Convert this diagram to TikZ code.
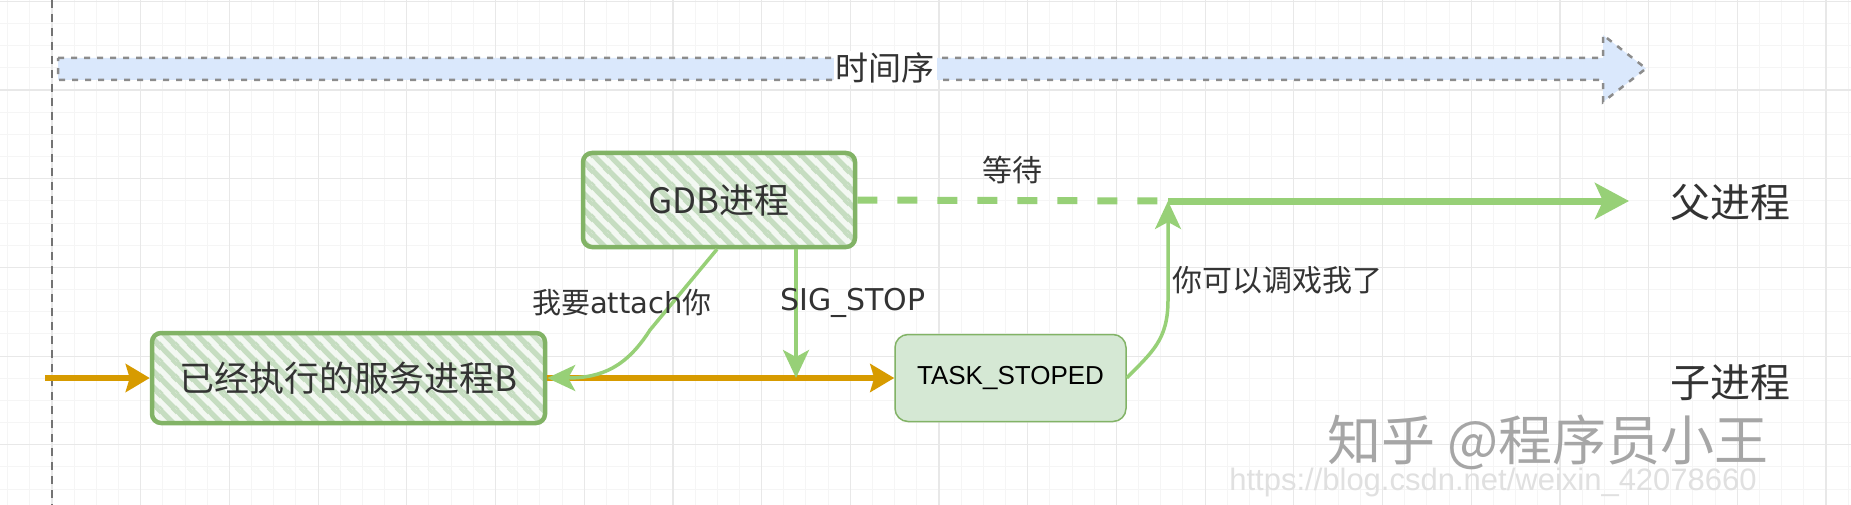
\documentclass[tikz,border=0pt]{standalone}
\usepackage{fontspec}
\setmainfont{Noto Sans CJK SC}
\newfontfamily\latinfont{Liberation Sans}
\newfontfamily\comicfont{DejaVu Sans}
\usetikzlibrary{arrows.meta, patterns.meta}
\definecolor{sketchgreen}{HTML}{82B366}
\definecolor{linegreen}{HTML}{97D077}
\definecolor{hatchline}{HTML}{C6DDC1}
\definecolor{hatchbg}{HTML}{F3F8F2}
\definecolor{stategreen}{HTML}{D5E8D4}
\definecolor{floworange}{HTML}{D79B00}
\definecolor{timeblue}{HTML}{DAE8FC}
\definecolor{labelgray}{HTML}{333333}

\tikzdeclarepattern{
  name=sketchhatch,
  type=uncolored,
  bounding box={(0pt,0pt) and (16pt,16pt)},
  tile size={(16pt,16pt)},
  code={
    \pgfsetlinewidth{5.5pt}
    \pgfpathmoveto{\pgfpoint{-8pt}{8pt}}\pgfpathlineto{\pgfpoint{8pt}{-8pt}}
    \pgfpathmoveto{\pgfpoint{0pt}{16pt}}\pgfpathlineto{\pgfpoint{16pt}{0pt}}
    \pgfpathmoveto{\pgfpoint{8pt}{24pt}}\pgfpathlineto{\pgfpoint{24pt}{8pt}}
    \pgfusepath{stroke}
  }
}

\begin{document}
\begin{tikzpicture}[
  x=1pt, y=-1pt,
  gridminor/.style={draw=black!4, line width=1pt},
  gridmajor/.style={draw=black!9, line width=1.2pt},
  sketchbox/.style={draw=sketchgreen, line width=4.5pt, rounded corners=9pt, preaction={fill=hatchbg}, pattern=sketchhatch, pattern color=hatchline, text=labelgray, font=\fontsize{35}{40}\selectfont, inner sep=0pt},
  statebox/.style={draw=sketchgreen, line width=1.5pt, fill=stategreen, rounded corners=13pt, font=\latinfont\fontsize{26}{30}\selectfont, inner sep=0pt},
  childflow/.style={draw=floworange, line width=6pt, -{Stealth[length=24pt,width=28pt,inset=4pt]}},
  parentflow/.style={draw=linegreen, line width=7pt},
  signal/.style={draw=linegreen, line width=3.5pt, -{Stealth[length=28pt,width=26pt,inset=7pt]}},
  lanelabel/.style={text=labelgray, font=\fontsize{40}{44}\selectfont},
  msglabel/.style={text=labelgray, font=\fontsize{30}{34}\selectfont, inner sep=0pt}
]
  \useasboundingbox (0,0) rectangle (1851,505);
  \fill[white] (0,0) rectangle (1851,505);

  % Grid background
  \foreach \k in {-2,...,81} \draw[gridminor] ({52+\k*22.175},0) -- ({52+\k*22.175},505);
  \foreach \k in {-4,...,19} \draw[gridminor] (0,{90+\k*22.175}) -- (1851,{90+\k*22.175});
  \foreach \k in {-1,...,20} \draw[gridmajor] ({52+\k*88.7},0) -- ({52+\k*88.7},505);
  \foreach \k in {-1,...,4} \draw[gridmajor] (0,{90+\k*88.7}) -- (1851,{90+\k*88.7});
  \draw[black!55, line width=1.5pt, dash pattern=on 8pt off 6pt] (52,0) -- (52,505);

  % Time axis
  \filldraw[fill=timeblue, draw=black!45, line width=2.5pt, dash pattern=on 6pt off 7pt]
    (58,58) -- (1603,58) -- (1603,35) -- (1646,68.5) -- (1603,102) -- (1603,80) -- (58,80) -- cycle;
  \node[fill=white, text=labelgray, font=\fontsize{33}{38}\selectfont, inner sep=2pt] (timeaxis) at (885,68) {时间序};

  % Processes
  \node[sketchbox, minimum width=272pt, minimum height=94pt] (gdb) at (719,200) {GDB进程};
  \node[sketchbox, minimum width=393pt, minimum height=90pt] (svcb) at (348.5,378) {已经执行的服务进程B};
  \node[statebox, minimum width=231pt, minimum height=87pt] (stopped) at (1010.5,378) {TASK\_STOPED};

  % Lane labels
  \node[lanelabel] (parentlane) at (1730,203) {父进程};
  \node[lanelabel] (childlane) at (1730,383) {子进程};

  \coordinate (childstart) at (45,378);
  \coordinate (join) at (1168,201);
  \coordinate (parentend) at (1629,201);

  % Child process flow
  \draw[childflow] (childstart) -- (svcb.west);
  \draw[childflow] (svcb.east) -- (stopped.west);

  % Parent process flow
  \draw[parentflow, dash pattern=on 20pt off 20pt] (gdb.east) -- (join);
  \draw[parentflow, -{Stealth[length=34pt,width=36pt,inset=8pt]}] (join) -- (parentend);

  % Signals
  \draw[signal] ([xshift=-2pt]gdb.south) -- (650,330) .. controls (627,366) and (603,378) .. (svcb.east);
  \draw[signal] ([xshift=77pt]gdb.south) -- ([xshift=77pt]gdb.south |- stopped.west);
  \draw[signal] (stopped.east) .. controls (1152,352) and (1168,340) .. (1168,300) -- (join);

  % Message labels
  \node[msglabel] (waitlbl) at (1012,170) {等待};
  \node[msglabel, font=\fontsize{29}{34}\selectfont] (attachlbl) at (622,303) {我要{\comicfont attach}你};
  \node[msglabel, font=\comicfont\fontsize{30}{34}\selectfont] (sigstoplbl) at (853,303) {SIG\_STOP};
  \node[msglabel] (debuglbl) at (1277,280) {你可以调戏我了};

  % Watermarks
  \node[text=black!35, font=\fontsize{54}{60}\selectfont] (zhihumark) at (1548,442) {知乎 @程序员小王};
  \node[text=black!12, font=\latinfont\fontsize{31}{36}\selectfont] (csdnmark) at (1493,482) {https://blog.csdn.net/weixin\_42078660};
\end{tikzpicture}
\end{document}
